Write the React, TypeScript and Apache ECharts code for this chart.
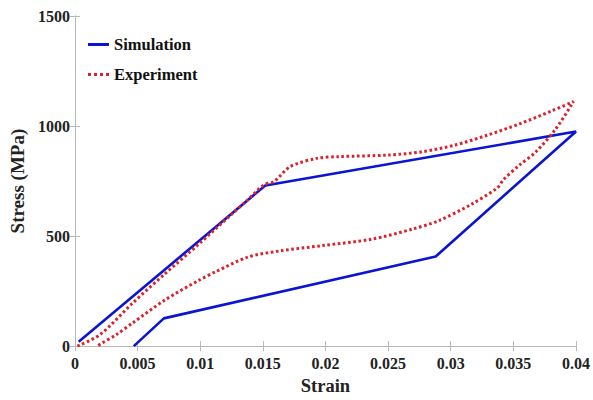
import React, { useEffect, useRef } from "react";
import * as echarts from "echarts";

const simulation: [number, number][] = [
  [0.0003, 20], [0.0152, 730], [0.04, 975], [0.0288, 407], [0.0071, 126], [0.0047, 0],
];

const experiment: [number, number][] = [
  [0.0002, 0], [0.002, 52], [0.0046, 195], [0.0072, 329], [0.0099, 464], [0.0125, 599],
  [0.0137, 659], [0.0151, 733], [0.0159, 748], [0.0172, 816], [0.0193, 853], [0.0211, 861],
  [0.025, 868], [0.0277, 883], [0.0303, 913], [0.0329, 958], [0.0355, 1010], [0.0381, 1070],
  [0.0398, 1111],
  [0.0384, 988], [0.0368, 883], [0.0355, 823], [0.0342, 756], [0.0337, 718], [0.0316, 643],
  [0.029, 569], [0.0269, 531], [0.0237, 486], [0.0198, 457], [0.0163, 432], [0.0138, 404],
  [0.0112, 337], [0.0099, 299], [0.0072, 210], [0.0046, 105], [0.0033, 52], [0.002, 8], [0.0018, 0],
];

const font = "Liberation Serif";

export default function App() {
  const ref = useRef<HTMLDivElement>(null);
  useEffect(() => {
    if (!ref.current) return;
    const chart = echarts.init(ref.current, undefined, { renderer: "svg" });
    const axisLine = { show: true, lineStyle: { color: "#b8b8b8", width: 1 } };
    const tick = { show: true, inside: true, length: 5, lineStyle: { color: "#b8b8b8" } };
    const label = { fontFamily: font, fontWeight: "bold" as const, fontSize: 16, color: "#222" };
    chart.setOption({
      animation: false,
      backgroundColor: "#fff",
      grid: { left: 68, right: 16, top: 16, bottom: 50, containLabel: false },
      legend: {
        left: 83,
        top: 31,
        orient: "vertical",
        itemWidth: 21,
        itemHeight: 3,
        itemGap: 13,
        textStyle: { ...label, fontSize: 16.5, color: "#111" },
        data: [
          { name: "Simulation", icon: "path://M0,0h21v3h-21z" },
          { name: "Experiment", icon: "path://M0,0h3v3h-3zM6,0h3v3h-3zM12,0h3v3h-3zM18,0h3v3h-3z" },
        ],
      },
      xAxis: [
        {
          type: "value", min: 0, max: 0.04, interval: 0.005,
          axisLine, axisTick: tick, splitLine: { show: false },
          axisLabel: { ...label, margin: 9, formatter: (v: number) => String(parseFloat(v.toFixed(4))) },
          name: "Strain", nameLocation: "middle", nameGap: 29,
          nameTextStyle: { ...label, fontSize: 18.5, color: "#222" },
        },
        {
          type: "value", min: 0, max: 0.04, interval: 0.005, position: "top",
          axisLine, axisTick: tick, axisLabel: { show: false }, splitLine: { show: false },
        },
      ],
      yAxis: [
        {
          type: "value", min: 0, max: 1500, interval: 500,
          axisLine, axisTick: tick, splitLine: { show: false },
          axisLabel: { ...label, margin: 5, formatter: (v: number) => String(v) },
          name: "Stress (MPa)", nameLocation: "middle", nameGap: 41,
          nameTextStyle: { ...label, fontSize: 19, color: "#222" },
        },
        {
          type: "value", min: 0, max: 1500, interval: 500, position: "right",
          axisLine, axisTick: tick, axisLabel: { show: false }, splitLine: { show: false },
        },
      ],
      series: [
        {
          name: "Simulation", type: "line", data: simulation, showSymbol: false, symbol: "none",
          lineStyle: { color: "#0a14d2", width: 2.6 }, itemStyle: { color: "#0a14d2" },
        },
        {
          name: "Experiment", type: "line", data: experiment, showSymbol: false, symbol: "none",
          smooth: 0.3,
          lineStyle: { color: "#d8222c", width: 3, type: [2.6, 2.6] },
          itemStyle: { color: "#d8222c" },
        },
      ],
    });
    return () => chart.dispose();
  }, []);
  return <div ref={ref} style={{ position: "fixed", left: 0, top: 0, width: 593, height: 400 }} />;
}
